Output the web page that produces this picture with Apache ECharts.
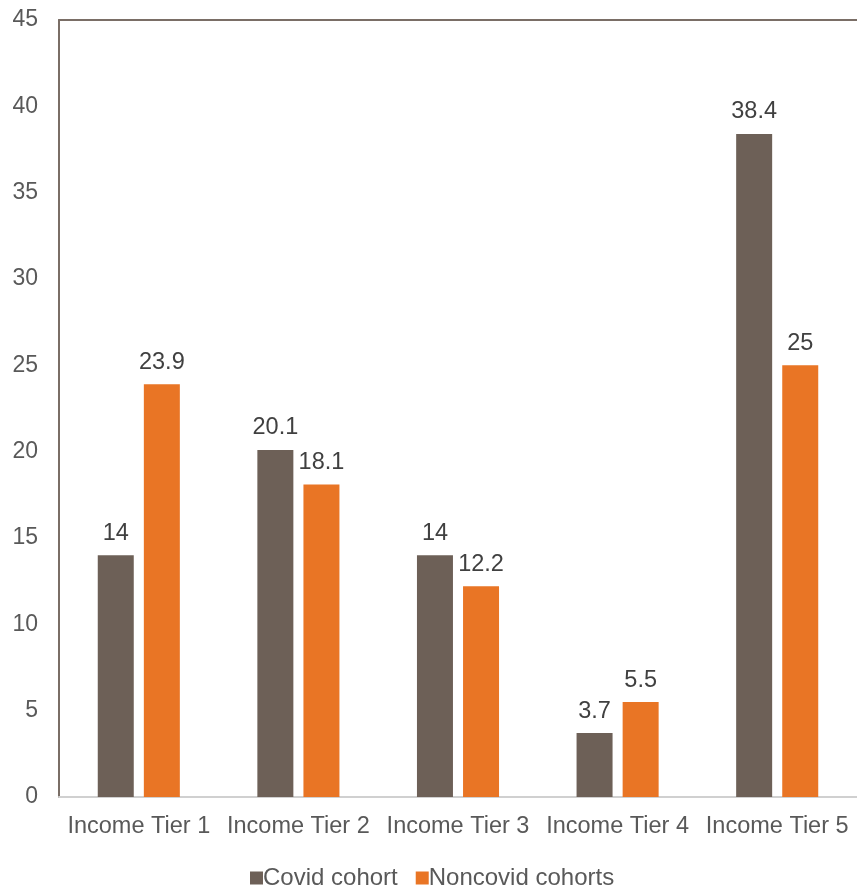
<!DOCTYPE html>
<html>
<head>
<meta charset="utf-8">
<script src="https://cdn.jsdelivr.net/npm/echarts@6/dist/echarts.min.js"></script>
<style>
  html, body { margin: 0; padding: 0; background: #fff; }
  #chart { width: 857px; height: 889px; }
</style>
</head>
<body>
<div id="chart"></div>
<script>
const categories = ['Income Tier 1', 'Income Tier 2', 'Income Tier 3', 'Income Tier 4', 'Income Tier 5']
const covid = [14, 20.1, 14, 3.7, 38.4]
const noncovid = [23.9, 18.1, 12.2, 5.5, 25]

const chart = echarts.init(document.getElementById('chart'))
const labelStyle = {
  show: true,
  position: 'top',
  distance: 10,
  color: '#404040',
  fontSize: 23.5,
  fontFamily: 'Liberation Sans'
}

chart.setOption({
  animation: false,
  textStyle: { fontFamily: 'Liberation Sans' },
  grid: { left: 59, right: -3, top: 20, bottom: 92 },
  legend: {
    bottom: -6,
    left: 245,
    itemWidth: 13,
    itemHeight: 13,
    itemGap: 18,
    icon: 'rect',
    textStyle: { color: '#595959', fontSize: 24, padding: [0, 0, 0, -5] },
    data: ['Covid cohort', 'Noncovid cohorts']
  },
  xAxis: [{
    type: 'category',
    data: categories,
    axisLine: { lineStyle: { color: '#d0d0d0', width: 2 } },
    axisTick: { show: false },
    axisLabel: { color: '#595959', fontSize: 23.5, margin: 18, interval: 0 }
  }, {
    type: 'category',
    position: 'top',
    data: categories,
    axisLine: { lineStyle: { color: '#7a6e66', width: 2 } },
    axisTick: { show: false },
    axisLabel: { show: false }
  }],
  yAxis: {
    type: 'value',
    min: 0,
    max: 45,
    interval: 5,
    axisLine: { show: true, lineStyle: { color: '#7a6e66', width: 2 } },
    axisTick: { show: false },
    splitLine: { show: false },
    axisLabel: { color: '#595959', fontSize: 23, margin: 21 }
  },
  series: [{
    name: 'Covid cohort',
    type: 'bar',
    data: covid,
    barWidth: 36,
    barGap: '28%',
    itemStyle: { color: '#6d6057' },
    label: labelStyle
  }, {
    name: 'Noncovid cohorts',
    type: 'bar',
    data: noncovid,
    barWidth: 36,
    itemStyle: { color: '#e97525' },
    label: labelStyle
  }]
})
</script>
</body>
</html>
